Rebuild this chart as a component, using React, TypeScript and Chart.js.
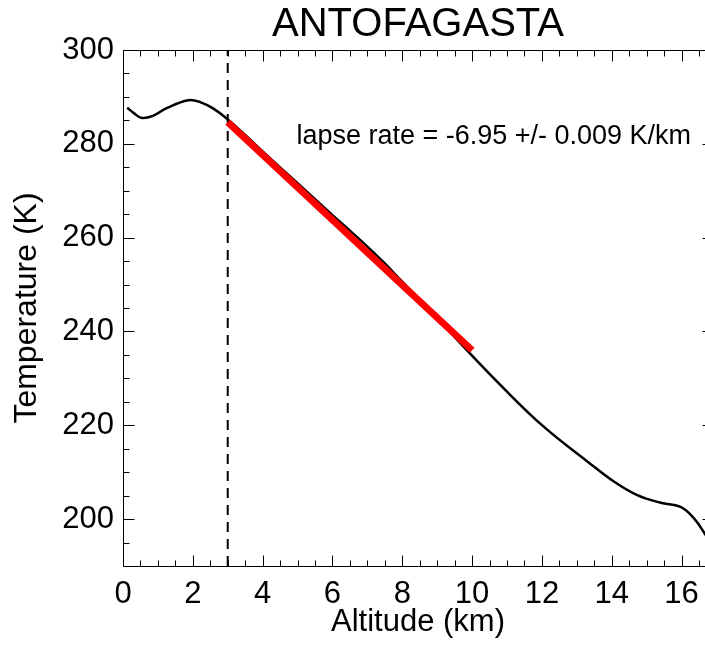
import React, { useEffect, useRef } from "react";
import { Chart, registerables } from "chart.js";

Chart.register(...registerables);

// ---- data ----
const altitude = [0.12, 0.3, 0.54, 0.87, 1.25, 1.87, 2.21, 2.59, 3.0, 3.5, 4, 5, 6, 6.5, 7, 7.5, 8, 9, 9.66, 10.9, 12.05, 13.3, 14.06, 14.73, 15.4, 15.97, 16.35, 16.69, 16.9];
const temperature = [287.7, 286.6, 285.5, 286.0, 287.6, 289.3, 288.9, 287.5, 285.2, 281.9, 278.4, 271.6, 264.8, 261.5, 258.1, 254.5, 250.6, 243.0, 237.5, 227.9, 219.7, 212.3, 208.0, 205.1, 203.5, 202.6, 200.2, 196.6, 194.0];
const fitAltitude = [3, 10];
const fitTemperature = [284.6, 236.0];
const boundaryAltitude = 3;
const xMin = 0;
const xMax = 16.9;
const yMin = 190;
const yMax = 300;
const xMajorStep = 2;
const xMinorStep = 0.5;
const yMajorStep = 20;
const yMinorStep = 5;
const titleText = "ANTOFAGASTA";
const xTitle = "Altitude (km)";
const yTitle = "Temperature (K)";
const annotationText = "lapse rate = -6.95 +/- 0.009 K/km";
const annotationPos = { x: 10.62, y: 280 };

const FONT = "'Liberation Sans', Arial, Helvetica, sans-serif";

const framePlugin = {
  id: "frame",
  afterDraw(chart: any) {
    const { ctx, chartArea } = chart;
    const xs = chart.scales.x;
    const ys = chart.scales.y;
    const L = Math.round(chartArea.left) + 0.5;
    const R = Math.round(chartArea.right) + 0.5;
    const T = Math.round(chartArea.top) + 0.5;
    const B = Math.round(chartArea.bottom) + 0.5;
    ctx.save();
    ctx.strokeStyle = "#000";
    ctx.lineWidth = 1;
    ctx.beginPath();
    ctx.rect(L, T, R - L, B - T);
    ctx.stroke();
    ctx.beginPath();
    const eps = 1e-6;
    for (let v = xMin; v <= xMax + eps; v += xMinorStep) {
      const px = Math.round(xs.getPixelForValue(v)) + 0.5;
      const major = Math.abs(v / xMajorStep - Math.round(v / xMajorStep)) < 1e-6;
      const len = major ? 11 : 6;
      ctx.moveTo(px, B);
      ctx.lineTo(px, B - len);
      ctx.moveTo(px, T);
      ctx.lineTo(px, T + len);
    }
    for (let v = yMin; v <= yMax + eps; v += yMinorStep) {
      const py = Math.round(ys.getPixelForValue(v)) + 0.5;
      const major = Math.abs(v / yMajorStep - Math.round(v / yMajorStep)) < 1e-6;
      const len = major ? 11 : 6;
      ctx.moveTo(L, py);
      ctx.lineTo(L + len, py);
      ctx.moveTo(R, py);
      ctx.lineTo(R - len, py);
    }
    ctx.stroke();

    // title
    ctx.fillStyle = "#000";
    ctx.font = `40px ${FONT}`;
    ctx.textAlign = "center";
    ctx.textBaseline = "alphabetic";
    ctx.fillText(titleText, (chartArea.left + chartArea.right) / 2, 36);

    // annotation
    ctx.font = `27px ${FONT}`;
    ctx.fillText(annotationText, xs.getPixelForValue(annotationPos.x), ys.getPixelForValue(annotationPos.y));
    ctx.restore();
  },
};

export default function App() {
  const ref = useRef<HTMLCanvasElement>(null);
  useEffect(() => {
    if (!ref.current) return;
    Chart.defaults.font.family = FONT;
    const profile = altitude.map((a, i) => ({ x: a, y: temperature[i] }));
    const fit = fitAltitude.map((a, i) => ({ x: a, y: fitTemperature[i] }));
    const boundary = [
      { x: boundaryAltitude, y: yMin },
      { x: boundaryAltitude, y: yMax },
    ];
    const chart = new Chart(ref.current, {
      type: "line",
      data: {
        datasets: [
          { data: fit, borderColor: "#ff0000", borderWidth: 7, pointRadius: 0, tension: 0, borderCapStyle: "butt" },
          { data: profile, borderColor: "#000", borderWidth: 2.5, pointRadius: 0, tension: 0.4 },
          { data: boundary, borderColor: "#000", borderWidth: 2, pointRadius: 0, borderDash: [10, 7] },
        ],
      } as any,
      options: {
        animation: false,
        responsive: false,
        maintainAspectRatio: false,
        layout: { padding: { left: 0, right: 17, top: 50, bottom: 0 } },
        plugins: { legend: { display: false }, tooltip: { enabled: false }, title: { display: false } },
        scales: {
          x: {
            type: "linear",
            min: xMin,
            max: xMax,
            grid: { display: false, drawTicks: false },
            border: { display: false },
            ticks: {
              stepSize: xMajorStep,
              includeBounds: false,
              padding: 10,
              color: "#000",
              font: { size: 31, family: FONT },
              maxRotation: 0,
              autoSkip: false,
              callback: (v: any) => (Number(v) % xMajorStep === 0 ? String(v) : ""),
            },
            title: { display: true, text: xTitle, color: "#000", font: { size: 31, family: FONT }, padding: { top: 0, bottom: 4 } },
            afterFit: (s: any) => { s.height = 79; },
          },
          y: {
            type: "linear",
            min: yMin,
            max: yMax,
            grid: { display: false, drawTicks: false },
            border: { display: false },
            ticks: {
              stepSize: yMajorStep,
              includeBounds: false,
              padding: 9,
              color: "#000",
              font: { size: 31, family: FONT },
              autoSkip: false,
              callback: (v: any) => (Number(v) % yMajorStep === 0 ? String(v) : ""),
            },
            title: { display: true, text: yTitle, color: "#000", font: { size: 32, family: FONT }, padding: { top: 8, bottom: 0 } },
            afterFit: (s: any) => { s.width = 123; },
          },
        },
      } as any,
      plugins: [framePlugin],
    });
    return () => chart.destroy();
  }, []);
  return (
    <div style={{ position: "fixed", left: 0, top: 0, width: 705, height: 645, overflow: "hidden", background: "#fff" }}>
      <canvas ref={ref} width={730} height={645} style={{ display: "block", width: 730, height: 645 }} />
    </div>
  );
}
